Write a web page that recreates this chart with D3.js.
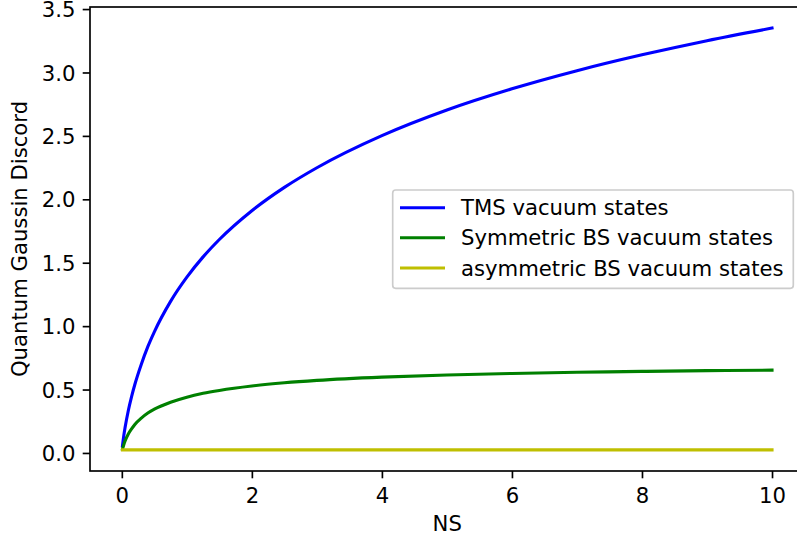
<!DOCTYPE html>
<html><head><meta charset="utf-8">
<script src="https://cdn.jsdelivr.net/npm/d3@7"></script>
<style>html,body{margin:0;padding:0;background:#fff;}svg{display:block;font-family:"DejaVu Sans",sans-serif;}</style>
</head><body>
<svg id="chart" width="797" height="537"></svg>
<script>
// Data
const ns     = [0.01,0.03,0.05,0.1,0.15,0.2,0.3,0.4,0.5,0.75,1,1.25,1.5,2,2.5,3,4,5,6,7,8,9,10];
const tms    = [0.056,0.136,0.20,0.335,0.445,0.54,0.70,0.838,0.955,1.195,1.386,1.546,1.683,1.91,2.094,2.249,2.502,2.704,2.871,3.014,3.139,3.251,3.350];
const symBS  = [0.03,0.065,0.095,0.15,0.19,0.225,0.275,0.315,0.345,0.40,0.44,0.47,0.493,0.528,0.553,0.572,0.598,0.615,0.627,0.636,0.643,0.649,0.653];
const asymBS = [0.024,0.024,0.024,0.024,0.024,0.024,0.024,0.024,0.024,0.024,0.024,0.024,0.024,0.024,0.024,0.024,0.024,0.024,0.024,0.024,0.024,0.024,0.024];
const seriesNames = ["TMS vacuum states","Symmetric BS vacuum states","asymmetric BS vacuum states"];
const seriesColors = ["#0000ff","#008000","#bfbf00"];
const xTicks = [0,2,4,6,8,10];
const yTicks = [0,0.5,1,1.5,2,2.5,3,3.5];
const xLabel = "NS";
const yLabel = "Quantum Gaussin Discord";

const series = [tms, symBS, asymBS];
const svg = d3.select("#chart");
const L = 90, R = 804.5, T = 7, B = 471;
const fs = 21.2;

const xmin = d3.min(ns), xmax = d3.max(ns), xm = (xmax - xmin) * 0.05;
const allY = series.flat();
const ymin = d3.min(allY), ymax = d3.max(allY), ym = (ymax - ymin) * 0.05;
const x = d3.scaleLinear().domain([xmin - xm, xmax + xm]).range([L, R]);
const y = d3.scaleLinear().domain([ymin - ym, ymax + ym]).range([B, T]);

svg.append("defs").append("clipPath").attr("id","clip")
  .append("rect").attr("x",L).attr("y",T).attr("width",R-L).attr("height",B-T);

const line = d3.line().x((d,i)=>x(ns[i])).y(d=>y(d)).curve(d3.curveMonotoneX);
const g = svg.append("g").attr("clip-path","url(#clip)");
series.forEach((s,k)=>{
  g.append("path").attr("d", line(s)).attr("fill","none")
   .attr("stroke", seriesColors[k]).attr("stroke-width",3.1)
   .attr("stroke-linejoin","round").attr("stroke-linecap","square");
});

// axes
const xAxis = d3.axisBottom(x).tickValues(xTicks).tickFormat(d3.format("d")).tickSize(7.3).tickPadding(7.3);
const yAxis = d3.axisLeft(y).tickValues(yTicks).tickFormat(d3.format(".1f")).tickSize(7.3).tickPadding(7.3);
const gx = svg.append("g").attr("transform",`translate(0,${B})`).call(xAxis);
const gy = svg.append("g").attr("transform",`translate(${L},0)`).call(yAxis);
[gx,gy].forEach(a=>{
  a.select(".domain").remove();
  a.selectAll(".tick line").attr("stroke","#000").attr("stroke-width",1.67);
  a.selectAll(".tick text").attr("fill","#000").attr("font-size",fs).attr("font-family","DejaVu Sans");
});
gx.selectAll(".tick text").attr("dy",null).attr("y",31.5);
gy.selectAll(".tick text").attr("dy","0.36em");

// spines
const sp = svg.append("g").attr("stroke","#000").attr("stroke-width",1.67).attr("fill","none");
sp.append("rect").attr("x",L).attr("y",T).attr("width",R-L).attr("height",B-T);

// labels
svg.append("text").attr("x",(L+R)/2).attr("y",531).attr("text-anchor","middle")
  .attr("font-size",fs).text(xLabel);
svg.append("text").attr("transform",`translate(26.5,${(T+B)/2}) rotate(-90)`)
  .attr("text-anchor","middle").attr("font-size",fs).text(yLabel);

// legend
const lg = svg.append("g");
lg.append("rect").attr("x",392.7).attr("y",190).attr("width",400.6).attr("height",98.3)
  .attr("rx",3).attr("fill","#fff").attr("fill-opacity",0.8).attr("stroke","#cccccc").attr("stroke-width",1.67);
const rowY = [207.7, 237.7, 268];
seriesNames.forEach((n,k)=>{
  lg.append("line").attr("x1",400).attr("x2",445).attr("y1",rowY[k]).attr("y2",rowY[k])
    .attr("stroke",seriesColors[k]).attr("stroke-width",3.1);
  lg.append("text").attr("x",461).attr("y",rowY[k]).attr("dy","0.36em")
    .attr("font-size",fs).text(n);
});
</script>
</body></html>
